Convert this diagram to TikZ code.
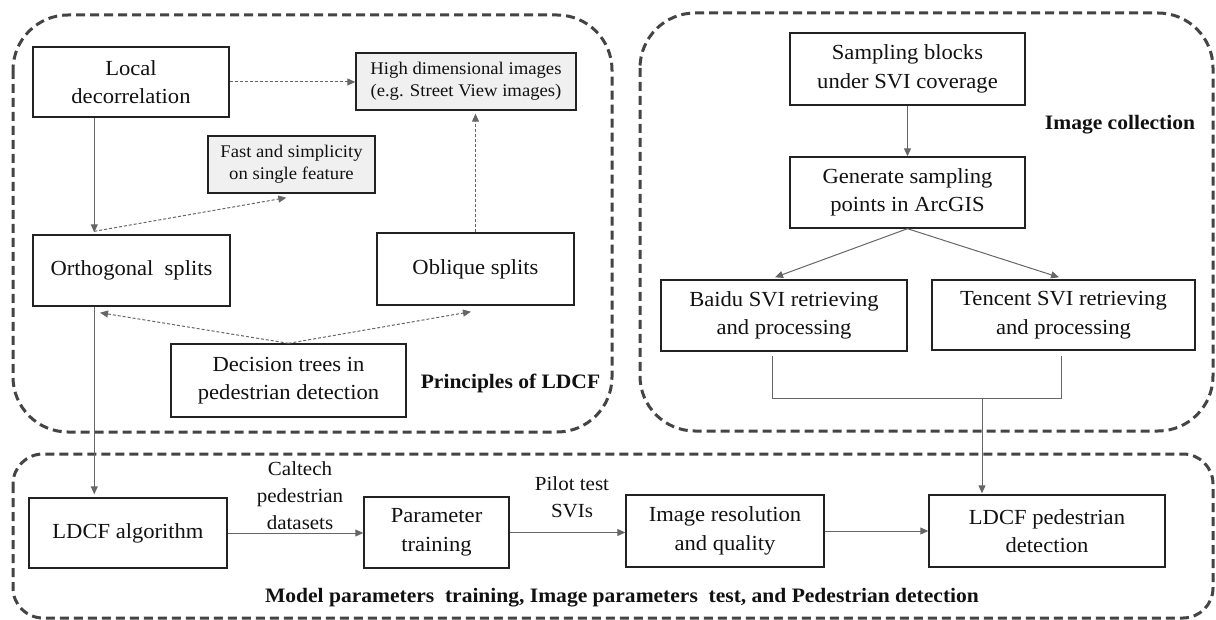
\documentclass[tikz,border=0pt]{standalone}
\usepackage{fontspec}
\setmainfont{Liberation Serif}[FakeStretch=1.05]
\usetikzlibrary{arrows.meta,calc}
\definecolor{boxc}{HTML}{222222}
\definecolor{txt}{HTML}{111111}
\definecolor{gfill}{HTML}{F0F0F0}
\definecolor{regc}{HTML}{444444}
\definecolor{arrc}{HTML}{666666}
\begin{document}
\begin{tikzpicture}[x=1pt,y=-1pt,
  box/.style={draw=boxc, line width=1.4pt, align=center, inner sep=0pt, text=txt,
              font=\fontsize{21.5}{28.5}\selectfont},
  gbox/.style={box, fill=gfill, font=\fontsize{17.8}{22}\selectfont},
  region/.style={draw=regc, line width=3pt, dash pattern=on 9pt off 5pt},
  arr/.style={draw=arrc, line width=1pt, -{Triangle[length=8pt,width=7pt]}},
  darr/.style={arr, dash pattern=on 3pt off 2pt},
  ln/.style={draw=arrc, line width=1pt},
  lab/.style={align=center, font=\fontsize{20}{27}\selectfont, text=txt, inner sep=0pt},
  ttl/.style={font=\fontsize{20.5}{24}\selectfont\bfseries, text=txt, inner sep=0pt},
]
\useasboundingbox (0,0) rectangle (1216,620);

% regions
\draw[region, rounded corners=55pt] (13,15) rectangle (612,432);
\draw[region, rounded corners=55pt] (640,13) rectangle (1213,431);
\draw[region, rounded corners=30pt] (13,454) rectangle (1213,618);

% left region nodes
\node[box, minimum width=196pt, minimum height=70pt] (loc) at (131,82) {Local\\decorrelation};
\node[gbox, minimum width=220pt, minimum height=57pt] (hd) at (466,81.5) {High dimensional images\\(e.g. Street View images)};
\node[gbox, minimum width=167pt, minimum height=57pt] (fast) at (291.5,164.5) {Fast and simplicity\\on single feature};
\node[box, minimum width=197pt, minimum height=71pt] (orth) at (131.5,270.5) {Orthogonal\ \ splits};
\node[box, minimum width=197pt, minimum height=72pt] (obl) at (475.5,269) {Oblique splits};
\node[box, minimum width=235pt, minimum height=73pt] (dec) at (288.5,380.5) {Decision trees in\\pedestrian detection};
\node[ttl] (t1) at (510.5,383) {Principles of LDCF};

% right region nodes
\node[box, minimum width=235pt, minimum height=72pt] (samp) at (907.5,69) {Sampling blocks\\under SVI coverage};
\node[box, minimum width=235pt, minimum height=71pt] (gen) at (907.5,192.5) {Generate sampling\\points in ArcGIS};
\node[box, minimum width=246pt, minimum height=71pt] (baidu) at (784,315.5) {Baidu SVI retrieving\\and processing};
\node[box, minimum width=263pt, minimum height=70pt] (tenc) at (1063.5,315) {Tencent SVI retrieving\\and processing};
\node[ttl] (t2) at (1120,125) {Image collection};

% bottom region nodes
\node[box, minimum width=198pt, minimum height=70pt] (alg) at (128,533) {LDCF algorithm};
\node[box, minimum width=145pt, minimum height=71pt] (par) at (436.5,532.5) {Parameter\\training};
\node[box, minimum width=198pt, minimum height=72pt] (res) at (725,531) {Image resolution\\and quality};
\node[box, minimum width=236pt, minimum height=72pt] (det) at (1047,531) {LDCF pedestrian\\detection};
\node[lab] (cal) at (300,496) {Caltech\\pedestrian\\datasets};
\node[lab] (pil) at (572,497) {Pilot test\\SVIs};
\node[ttl] (t3) at (622,598) {Model parameters\ \ training, Image parameters\ \ test, and Pedestrian detection};

% left region connectors
\draw[arr] ([xshift=62pt]loc.south west) -- ([xshift=62pt,yshift=2pt]orth.north west);
\draw[darr] (loc.east) -- (loc.east -| hd.west);
\draw[darr] ([xshift=62pt,yshift=3pt]orth.north west) -- ([xshift=79pt,yshift=-4pt]fast.south west);
\draw[darr] (obl.north) -- ([yshift=-3pt]obl.north |- hd.south);
\draw[darr] (dec.north) -- ([xshift=-31.5pt,yshift=-6pt]orth.south);
\draw[darr] (dec.north) -- ([xshift=-4.5pt,yshift=-6pt]obl.south);
\draw[arr] ([xshift=62pt]orth.south west) -- ([xshift=66pt,yshift=3pt]alg.north west);

% right region connectors
\draw[arr] (samp.south) -- (gen.north);
\draw[arr] (gen.south) -- ([xshift=-9pt,yshift=2pt]baidu.north);
\draw[arr] (gen.south) -- ([xshift=-4.5pt,yshift=2pt]tenc.north);
\coordinate (bj) at (772,398);
\coordinate (tj) at (1061,398);
\coordinate (j) at (982,398);
\draw[ln] ([xshift=-12pt,yshift=-4pt]baidu.south) -- (bj) -- (tj) -- ([xshift=-2.5pt,yshift=-5pt]tenc.south);
\draw[arr] (j) -- ([yshift=1pt]j |- det.north);

% bottom connectors
\draw[arr] (alg.east) -- (alg.east -| par.west);
\draw[arr] (par.east) -- (par.east -| res.west);
\draw[arr] (res.east) -- (res.east -| det.west);
\end{tikzpicture}
\end{document}
